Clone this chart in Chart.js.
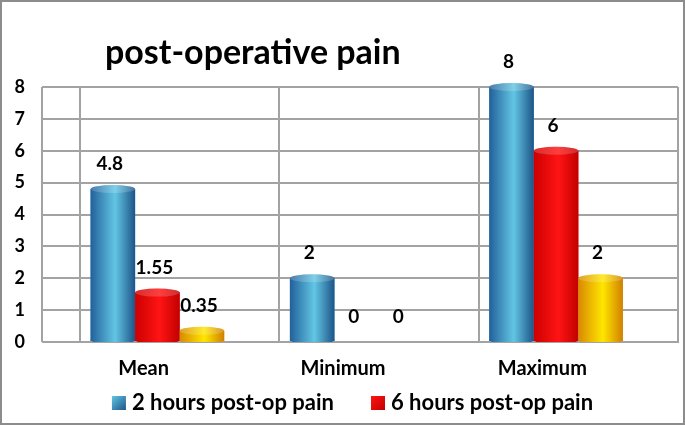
<!DOCTYPE html>
<html>
<head>
<meta charset="utf-8">
<script src="https://cdn.jsdelivr.net/npm/chart.js@4.4.1/dist/chart.umd.min.js"></script>
<style>
  html, body { margin: 0; padding: 0; background: #fff; }
  #wrap { width: 685px; height: 425px; position: relative; }
</style>
</head>
<body>
<div id="wrap"><canvas id="painChart"></canvas></div>
<script>
const categories = ['Mean', 'Minimum', 'Maximum'];
const pain2h = [4.8, 2, 8];
const pain6h = [1.55, 0, 6];
const pain3 = [0.35, 0, 2];
const seriesLabels = ['2 hours post-op pain', '6 hours post-op pain', ''];
const yMin = 0;
const yMax = 8;

const FONT = 'Lato, "Open Sans", sans-serif';
const GRID = '#a3a3a3';

// horizontal shading per series: edge, middle, edge
const shades = [
  ['#22609a', '#62c6e4', '#1d5488'],
  ['#cc0000', '#ff1414', '#c20000'],
  ['#d98a00', '#ffe600', '#d08000']
];

const framePlugin = {
  id: 'frame',
  beforeDraw(chart) {
    const ctx = chart.ctx;
    ctx.save();
    ctx.fillStyle = '#fff';
    ctx.fillRect(0, 0, chart.width, chart.height);
    ctx.restore();
  },
  afterDraw(chart) {
    const { ctx, chartArea: a } = chart;
    const tl = chart.options.scales.y.grid.tickLength;
    ctx.save();
    // left edge of the plot box
    ctx.strokeStyle = GRID;
    ctx.lineWidth = 2;
    ctx.beginPath();
    ctx.moveTo(a.left - tl, a.top);
    ctx.lineTo(a.left - tl, a.bottom);
    ctx.stroke();
    // outer border
    ctx.strokeStyle = '#8c8c8c';
    ctx.lineWidth = 2;
    ctx.strokeRect(1, 1, chart.width - 2, chart.height - 2);
    // title
    ctx.fillStyle = '#000';
    ctx.font = 'bold 34px ' + FONT;
    ctx.textBaseline = 'middle';
    ctx.textAlign = 'left';
    ctx.fillText('post-operative pain', 105, 53);
    ctx.restore();
  }
};

// legend for the first two series, with wider spacing than the built-in one
const legendPlugin = {
  id: 'wideLegend',
  afterDraw(chart) {
    const ctx = chart.ctx;
    const box = 14, gapText = 6, gapItem = 37, y = 403;
    ctx.save();
    ctx.font = 'bold 22px ' + FONT;
    ctx.textBaseline = 'middle';
    ctx.textAlign = 'left';
    const items = [0, 1].map((d) => ({ d, text: chart.data.datasets[d].label }));
    items.forEach((it) => { it.w = box + gapText + ctx.measureText(it.text).width; });
    const total = items.reduce((s, it) => s + it.w, 0) + gapItem * (items.length - 1);
    let x = chart.width / 2 + 10 - total / 2;
    items.forEach((it) => {
      const g = ctx.createLinearGradient(x, y - box / 2, x + box, y + box / 2);
      g.addColorStop(0, shades[it.d][1]);
      g.addColorStop(1, shades[it.d][2]);
      ctx.fillStyle = g;
      ctx.fillRect(x, y - box / 2, box, box);
      ctx.fillStyle = '#000';
      ctx.fillText(it.text, x + box + gapText, y);
      x += it.w + gapItem;
    });
    ctx.restore();
  }
};

const cylinderPlugin = {
  id: 'cylinders',
  afterDatasetsDraw(chart) {
    const ctx = chart.ctx;
    ctx.save();
    ctx.beginPath();
    ctx.rect(0, 0, chart.width, chart.chartArea.bottom);
    ctx.clip();
    for (let d = 0; d < 3; d++) {
      const meta = chart.getDatasetMeta(d);
      meta.data.forEach((el) => {
        const { x, y, base, width } = el.getProps(['x', 'y', 'base', 'width'], true);
        if (base - y < 0.5) return;
        const l = x - width / 2;
        const g = ctx.createLinearGradient(l, 0, l + width, 0);
        g.addColorStop(0, shades[d][0]);
        g.addColorStop(0.55, shades[d][1]);
        g.addColorStop(1, shades[d][2]);
        ctx.fillStyle = g;
        ctx.fillRect(l, y, width, base - y);
        ctx.beginPath();
        ctx.ellipse(x, base - 1, width / 2, 4, 0, 0, Math.PI * 2);
        ctx.fill();
        ctx.beginPath();
        ctx.ellipse(x, y, width / 2, 4, 0, 0, Math.PI * 2);
        ctx.fill();
        ctx.fillStyle = 'rgba(255,255,255,0.18)';
        ctx.fill();
      });
    }
    ctx.restore();
  }
};

const valueLabelPlugin = {
  id: 'valueLabels',
  afterDatasetsDraw(chart) {
    const ctx = chart.ctx;
    ctx.save();
    ctx.fillStyle = '#000';
    ctx.font = 'bold 19px ' + FONT;
    ctx.textAlign = 'center';
    ctx.textBaseline = 'middle';
    for (let d = 0; d < 3; d++) {
      const meta = chart.getDatasetMeta(d);
      const values = chart.data.datasets[d].data;
      meta.data.forEach((el, i) => {
        const { x, y } = el.getProps(['x', 'y'], true);
        ctx.fillText(String(values[i]), x - 3, y - 25);
      });
    }
    ctx.restore();
  }
};

const ctx = document.getElementById('painChart').getContext('2d');
new Chart(ctx, {
  type: 'bar',
  data: {
    labels: categories,
    datasets: [
      { label: seriesLabels[0], data: pain2h, backgroundColor: '#3c9ad2' },
      { label: seriesLabels[1], data: pain6h, backgroundColor: '#ff0000' },
      { label: seriesLabels[2], data: pain3, backgroundColor: '#ffc000' },
      // empty slot: keeps each group left of its category centre
      { label: '', data: categories.map(() => null), backgroundColor: 'rgba(0,0,0,0)' }
    ]
  },
  options: {
    responsive: true,
    maintainAspectRatio: false,
    animation: false,
    devicePixelRatio: 1,
    datasets: {
      bar: { categoryPercentage: 0.894, barPercentage: 1, borderWidth: 0 }
    },
    layout: { padding: { top: 87, right: 7, bottom: 29, left: 0 } },
    plugins: {
      title: { display: false },
      tooltip: { enabled: false },
      legend: { display: false }
    },
    scales: {
      x: {
        offset: true,
        grid: { color: GRID, lineWidth: 2, offset: true, drawTicks: false },
        border: { color: GRID, width: 2 },
        ticks: {
          color: '#000',
          font: { family: FONT, size: 20, weight: 'bold' },
          padding: 15,
          labelOffset: -36
        }
      },
      y: {
        min: yMin,
        max: yMax,
        grid: { color: GRID, lineWidth: 2, tickLength: 38, tickColor: GRID },
        border: { color: GRID, width: 2 },
        afterFit: (scale) => { scale.width = 80; },
        ticks: {
          stepSize: 1,
          color: '#000',
          font: { family: FONT, size: 18, weight: 'bold' },
          padding: 17
        }
      }
    }
  },
  plugins: [framePlugin, cylinderPlugin, valueLabelPlugin, legendPlugin]
});
</script>
</body>
</html>
